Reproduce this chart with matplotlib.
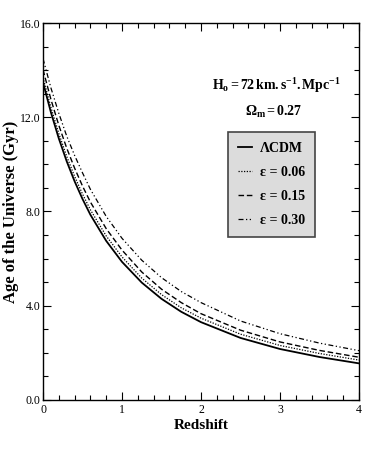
import matplotlib
matplotlib.use("Agg")
import matplotlib.pyplot as plt
from matplotlib.ticker import MultipleLocator

# values
redshift = [0, 0.1, 0.2, 0.3, 0.4, 0.5, 0.6, 0.8, 1.0, 1.25, 1.5, 1.75, 2.0, 2.5, 3.0, 3.5, 4.0]
age_lcdm = [13.48, 12.21, 11.10, 10.13, 9.28, 8.53, 7.86, 6.75, 5.86, 4.98, 4.29, 3.74, 3.30, 2.63, 2.16, 1.82, 1.55]
age_eps006 = [13.68, 12.42, 11.31, 10.34, 9.49, 8.74, 8.07, 6.96, 6.07, 5.17, 4.47, 3.91, 3.47, 2.79, 2.31, 1.97, 1.69]
age_eps015 = [14.02, 12.76, 11.66, 10.69, 9.84, 9.08, 8.40, 7.27, 6.36, 5.43, 4.70, 4.13, 3.66, 2.96, 2.46, 2.10, 1.81]
age_eps030 = [14.49, 13.25, 12.17, 11.20, 10.38, 9.64, 8.94, 7.79, 6.86, 5.93, 5.19, 4.60, 4.13, 3.35, 2.81, 2.41, 2.09]

labels = ["ΛCDM", "ε = 0.06", "ε = 0.15", "ε = 0.30"]
x_ticks = [0, 1, 2, 3, 4]
y_ticks = [0.0, 4.0, 8.0, 12.0, 16.0]

plt.rcParams["font.family"] = ["Liberation Serif", "DejaVu Serif"]
plt.rcParams["mathtext.fontset"] = "custom"
plt.rcParams["mathtext.rm"] = "Liberation Serif"
plt.rcParams["mathtext.bf"] = "Liberation Serif:bold"
plt.rcParams["mathtext.it"] = "Liberation Serif:italic"

fig = plt.figure(figsize=(3.74, 4.71), dpi=100)
ax = fig.add_axes([0.115, 0.151, 0.845, 0.80])

ax.plot(redshift, age_lcdm, color="black", lw=1.3, ls="-", label=labels[0])
ax.plot(redshift, age_eps006, color="black", lw=0.9, ls=(0, (1, 1.2)), label=labels[1])
ax.plot(redshift, age_eps015, color="black", lw=1.0, ls=(0, (4, 2)), label=labels[2])
ax.plot(redshift, age_eps030, color="black", lw=0.9, ls=(0, (4, 2, 1, 2, 1, 2)), label=labels[3])

ax.set_xlim(0, 4)
ax.set_ylim(0, 16)
ax.set_xticks(x_ticks)
ax.set_xticklabels([str(t) for t in x_ticks])
ax.set_yticks(y_ticks)
ax.set_yticklabels([f"{t:.1f}" for t in y_ticks])
ax.xaxis.set_minor_locator(MultipleLocator(0.2))
ax.yaxis.set_minor_locator(MultipleLocator(1.0))
ax.tick_params(which="both", direction="in", top=True, right=True, labelsize=8.5, pad=3)
ax.tick_params(axis="y", pad=2)
ax.tick_params(which="major", length=6, width=0.8)
ax.tick_params(which="minor", length=3.5, width=0.8)
for s in ax.spines.values():
    s.set_linewidth(1.0)

ax.set_xlabel("Redshift", fontsize=11, fontweight="bold", labelpad=2)
ax.set_ylabel("Age of the Universe (Gyr)", fontsize=12, fontweight="bold")
ax.yaxis.set_label_coords(-0.076, 0.5)

ax.text(0.74, 0.835, r"$\mathbf{H}_\mathbf{o}\mathbf{=72\,km.s}^{\mathbf{-1}}\mathbf{.Mpc}^{\mathbf{-1}}$",
        transform=ax.transAxes, ha="center", va="center", fontsize=10)
ax.text(0.73, 0.765, r"$\mathbf{\Omega}_\mathbf{m}\mathbf{=0.27}$",
        transform=ax.transAxes, ha="center", va="center", fontsize=10)

leg = ax.legend(loc="upper right", bbox_to_anchor=(0.861, 0.711),
                prop={"weight": "bold", "size": 10}, frameon=True, fancybox=False,
                handlelength=1.0, handletextpad=0.6, borderpad=0.7, labelspacing=0.8,
                borderaxespad=0)
frame = leg.get_frame()
frame.set_facecolor("#dcdcdc")
frame.set_edgecolor("#444444")
frame.set_linewidth(1.2)
frame.set_alpha(1)

fig.savefig("out.png", dpi=100)
